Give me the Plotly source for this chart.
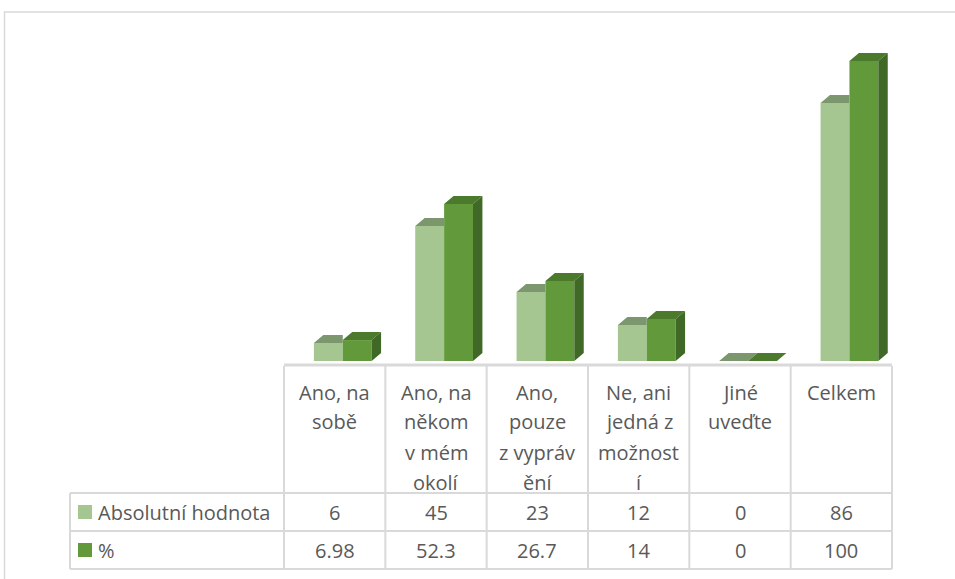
import plotly.graph_objects as go

kategorie = ["Ano, na sobě", "Ano, na někom v mém okolí", "Ano, pouze z vyprávění",
             "Ne, ani jedná z možností", "Jiné uveďte", "Celkem"]
popisky = [["Ano, na", "sobě"],
           ["Ano, na", "někom", "v mém", "okolí"],
           ["Ano,", "pouze", "z vypráv", "ění"],
           ["Ne, ani", "jedná z", "možnost", "í"],
           ["Jiné", "uveďte"],
           ["Celkem"]]
serie = ["Absolutní hodnota", "%"]
absolutni = [6, 45, 23, 12, 0, 86]
procenta = [6.98, 52.3, 26.7, 14, 0, 100]

SVETLA = dict(front="#a5c690", top="#7c976e")
TMAVA = dict(front="#629a3b", top="#4c7a2d", side="#406826")
GRID = "#d9d9d9"
TEXT = "#595959"
FONT = "Open Sans, Liberation Sans, sans-serif"

# souřadnice níže jsou v pixelech obrazovky (okraj stránky se ruší skriptem)
W, H = 955, 579
X_LEFT, X_RIGHT = 284, 892       # plocha grafu
Y_TOP, Y_BASE = 30, 361
L, R = X_LEFT, W - X_RIGHT
T, B = Y_TOP, H - Y_BASE
PW, PH = X_RIGHT - X_LEFT, Y_BASE - Y_TOP
YMAX = 110.33
DX, DY = 0.093, 2.67       # hloubka 3D efektu
SW = 0.285                  # šířka sloupce
OFF = [-0.205, 0.08]


def px(x):
    return (x - X_LEFT) / PW


def py(y):
    return (Y_BASE - y) / PH


n = len(kategorie)
idx = list(range(n))
fig = go.Figure()

# přední stěny
for s, (vals, col) in enumerate([(absolutni, SVETLA), (procenta, TMAVA)]):
    fig.add_trace(go.Bar(
        x=idx, y=vals, width=SW, offset=OFF[s], name=serie[s],
        marker=dict(color=col["front"], line=dict(width=0)),
        hoverinfo="skip", showlegend=False,
    ))


def poly(xs, ys, color):
    fig.add_trace(go.Scatter(
        x=xs, y=ys, mode="lines", fill="toself", fillcolor=color,
        line=dict(width=0), hoverinfo="skip", showlegend=False,
    ))


# horní stěny světlé řady (zakryté tmavými sloupci)
xs, ys = [], []
for i, (a, p) in enumerate(zip(absolutni, procenta)):
    x0, x1 = i + OFF[0], i + OFF[0] + SW
    if p > a:
        xs += [x0, x1, x1, x0 + DX, x0, None]
    else:
        xs += [x0, x1, x1 + DX, x0 + DX, x0, None]
    ys += [a, a, a + DY, a + DY, a, None]
poly(xs, ys, SVETLA["top"])

# horní a boční stěny tmavé řady
xs, ys, xs2, ys2 = [], [], [], []
for i, p in enumerate(procenta):
    x0, x1 = i + OFF[1], i + OFF[1] + SW
    xs += [x0, x1, x1 + DX, x0 + DX, x0, None]
    ys += [p, p, p + DY, p + DY, p, None]
    if p > 0:
        xs2 += [x1, x1 + DX, x1 + DX, x1, x1, None]
        ys2 += [0, DY, p + DY, p, 0, None]
poly(xs, ys, TMAVA["top"])
poly(xs2, ys2, TMAVA["side"])

shapes = []
line = dict(color=GRID, width=2)
# vnější rámeček
shapes.append(dict(type="rect", xref="paper", yref="paper", x0=px(4.5), x1=px(1000),
                   y0=py(12), y1=py(640), line=dict(color=GRID, width=1.5)))
# tabulka
col_x = [px(X_LEFT + PW * k / n) for k in range(n + 1)]
for cx in col_x:
    shapes.append(dict(type="line", xref="paper", yref="paper", x0=cx, x1=cx,
                       y0=py(366), y1=py(569), line=line))
shapes.append(dict(type="line", xref="paper", yref="paper", x0=px(70), x1=px(70),
                   y0=py(493), y1=py(569), line=line))
shapes.append(dict(type="line", xref="paper", yref="paper", x0=0, x1=1,
                   y0=py(365), y1=py(365), line=dict(color=GRID, width=3)))
for yy in [493, 531, 569]:
    shapes.append(dict(type="line", xref="paper", yref="paper", x0=px(70), x1=1,
                       y0=py(yy), y1=py(yy), line=line))
# legendové čtverečky
for s, col in enumerate([SVETLA["front"], TMAVA["front"]]):
    yc = [512, 550][s]
    shapes.append(dict(type="rect", xref="paper", yref="paper", x0=px(78), x1=px(92),
                       y0=py(yc + 7), y1=py(yc - 7), fillcolor=col, line=dict(width=0)))

ann = []
tf = dict(family=FONT, size=20, color=TEXT)
for i, lines in enumerate(popisky):
    for k, t in enumerate(lines):
        ann.append(dict(x=i, xref="x", y=py(392 + 30 * k), yref="paper", text=t,
                        showarrow=False, font=tf, xanchor="center", yanchor="middle"))
for s, vals in enumerate([absolutni, procenta]):
    yc = [512, 550][s]
    ann.append(dict(x=px(96), xref="paper", y=py(yc), yref="paper", text=serie[s],
                    showarrow=False, font=tf, xanchor="left", yanchor="middle"))
    for i, v in enumerate(vals):
        ann.append(dict(x=i, xref="x", y=py(yc), yref="paper", text=f"{v:g}",
                        showarrow=False, font=tf, xanchor="center", yanchor="middle"))

fig.update_layout(
    width=W, height=H, margin=dict(l=L, r=R, t=T, b=B),
    paper_bgcolor="white", plot_bgcolor="white",
    barmode="overlay", showlegend=False,
    shapes=shapes, annotations=ann,
    font=dict(family=FONT, color=TEXT),
)
fig.update_xaxes(range=[-0.5, n - 0.5], showgrid=False, zeroline=False,
                 showticklabels=False, ticks="", showline=False)
fig.update_yaxes(range=[0, YMAX], showgrid=False, zeroline=False,
                 showticklabels=False, ticks="", showline=False)
fig.write_html("out.html", config={"displayModeBar": False},
               post_script="document.body.style.margin='0';")
